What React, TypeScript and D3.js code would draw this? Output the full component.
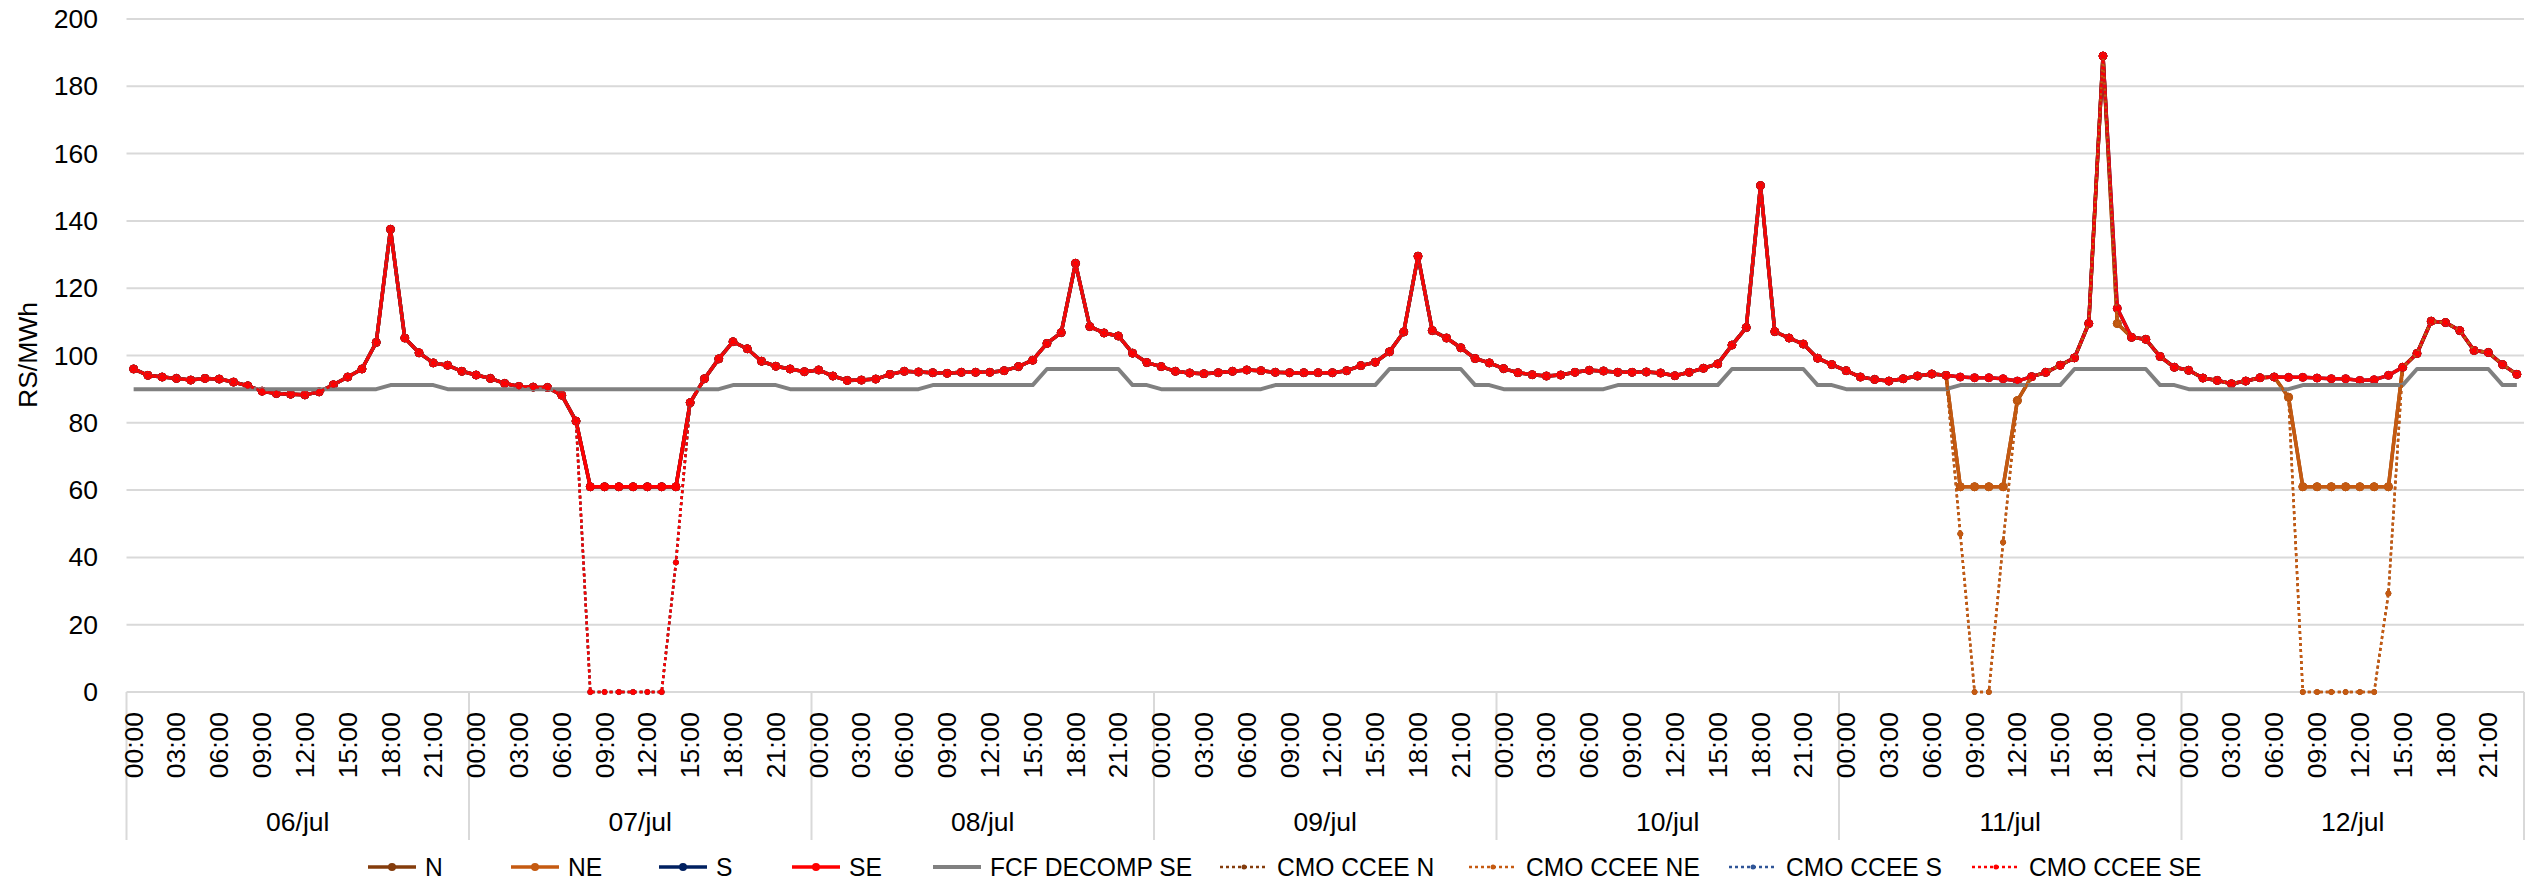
import React from 'react';
import * as d3 from 'd3';

const DAYS = ['06/jul', '07/jul', '08/jul', '09/jul', '10/jul', '11/jul', '12/jul'];
const HOUR_TICKS = ['00:00', '03:00', '06:00', '09:00', '12:00', '15:00', '18:00', '21:00'];
const Y_TICKS = [0, 20, 40, 60, 80, 100, 120, 140, 160, 180, 200];

// SE hourly values (7 days x 24 h)
const SE_VALUES = [
  96.0, 94.1, 93.6, 93.2, 92.7, 93.2, 93.0, 92.1, 91.0, 89.4, 88.7, 88.5, 88.3, 89.2, 91.3, 93.6, 96.0, 103.9, 137.5, 105.2, 100.8, 97.8, 97.1, 95.3,
  94.2, 93.2, 91.7, 90.8, 90.6, 90.5, 88.2, 80.5, 61, 61, 61, 61, 61, 61, 61, 86.0, 93.1, 99.0, 104.1, 102.0, 98.3, 96.8, 96.0, 95.2,
  95.7, 93.9, 92.6, 92.7, 93.0, 94.4, 95.3, 95.1, 94.9, 94.7, 95.0, 95.0, 95.0, 95.5, 96.7, 98.6, 103.6, 106.8, 127.4, 108.6, 106.7, 105.8, 100.7, 97.9,
  96.7, 95.3, 94.8, 94.6, 94.9, 95.3, 95.7, 95.5, 95.0, 94.9, 94.9, 94.9, 94.9, 95.5, 97.0, 98.0, 101.1, 107.0, 129.5, 107.4, 105.2, 102.3, 99.1, 97.8,
  96.1, 94.9, 94.3, 93.9, 94.2, 95.0, 95.6, 95.4, 95.0, 95.0, 95.1, 94.8, 94.0, 95.0, 96.2, 97.5, 103.1, 108.3, 150.5, 107.1, 105.2, 103.4, 99.2, 97.3,
  95.5, 93.6, 92.9, 92.4, 93.1, 93.9, 94.5, 94.1, 93.6, 93.4, 93.4, 93.1, 92.4, 93.7, 95.0, 97.1, 99.3, 109.5, 189.0, 114.0, 105.4, 104.8, 99.7, 96.5,
  95.6, 93.3, 92.6, 91.6, 92.4, 93.4, 93.6, 93.5, 93.5, 93.3, 93.1, 93.1, 92.6, 92.8, 94.1, 96.5, 100.6, 110.2, 109.8, 107.4, 101.5, 100.9, 97.3, 94.4,
];

// NE hourly values
const NE_VALUES = [
  96.0, 94.1, 93.6, 93.2, 92.7, 93.2, 93.0, 92.1, 91.0, 89.4, 88.7, 88.5, 88.3, 89.2, 91.3, 93.6, 96.0, 103.9, 137.5, 105.2, 100.8, 97.8, 97.1, 95.3,
  94.2, 93.2, 91.7, 90.8, 90.6, 90.5, 88.2, 80.5, 61, 61, 61, 61, 61, 61, 61, 86.0, 93.1, 99.0, 104.1, 102.0, 98.3, 96.8, 96.0, 95.2,
  95.7, 93.9, 92.6, 92.7, 93.0, 94.4, 95.3, 95.1, 94.9, 94.7, 95.0, 95.0, 95.0, 95.5, 96.7, 98.6, 103.6, 106.8, 127.4, 108.6, 106.7, 105.8, 100.7, 97.9,
  96.7, 95.3, 94.8, 94.6, 94.9, 95.3, 95.7, 95.5, 95.0, 94.9, 94.9, 94.9, 94.9, 95.5, 97.0, 98.0, 101.1, 107.0, 129.5, 107.4, 105.2, 102.3, 99.1, 97.8,
  96.1, 94.9, 94.3, 93.9, 94.2, 95.0, 95.6, 95.4, 95.0, 95.0, 95.1, 94.8, 94.0, 95.0, 96.2, 97.5, 103.1, 108.3, 150.5, 107.1, 105.2, 103.4, 99.2, 97.3,
  95.5, 93.6, 92.9, 92.4, 93.1, 93.9, 94.5, 94.1, 61, 61, 61, 61, 86.6, 93.7, 95.0, 97.1, 99.3, 109.5, 189.0, 109.5, 105.4, 104.8, 99.7, 96.5,
  95.6, 93.3, 92.6, 91.6, 92.4, 93.4, 93.6, 87.6, 61, 61, 61, 61, 61, 61, 61, 96.5, 100.6, 110.2, 109.8, 107.4, 101.5, 100.9, 97.3, 94.4,
];

// N and S overlap NE and SE on the chart
const N_VALUES = NE_VALUES;
const S_VALUES = SE_VALUES;

// FCF DECOMP SE
const FCF_VALUES = [
  90, 90, 90, 90, 90, 90, 90, 90, 90, 90, 90, 90, 90, 90, 90, 90, 90, 90, 91.2, 91.2, 91.2, 91.2, 90, 90,
  90, 90, 90, 90, 90, 90, 90, 90, 90, 90, 90, 90, 90, 90, 90, 90, 90, 90, 91.2, 91.2, 91.2, 91.2, 90, 90,
  90, 90, 90, 90, 90, 90, 90, 90, 91.2, 91.2, 91.2, 91.2, 91.2, 91.2, 91.2, 91.2, 96, 96, 96, 96, 96, 96, 91.2, 91.2,
  90, 90, 90, 90, 90, 90, 90, 90, 91.2, 91.2, 91.2, 91.2, 91.2, 91.2, 91.2, 91.2, 96, 96, 96, 96, 96, 96, 91.2, 91.2,
  90, 90, 90, 90, 90, 90, 90, 90, 91.2, 91.2, 91.2, 91.2, 91.2, 91.2, 91.2, 91.2, 96, 96, 96, 96, 96, 96, 91.2, 91.2,
  90, 90, 90, 90, 90, 90, 90, 90, 91.2, 91.2, 91.2, 91.2, 91.2, 91.2, 91.2, 91.2, 96, 96, 96, 96, 96, 96, 91.2, 91.2,
  90, 90, 90, 90, 90, 90, 90, 90, 91.2, 91.2, 91.2, 91.2, 91.2, 91.2, 91.2, 91.2, 96, 96, 96, 96, 96, 96, 91.2, 91.2,
];

// CMO CCEE SE
const CMO_SE_VALUES = [
  96.0, 94.1, 93.6, 93.2, 92.7, 93.2, 93.0, 92.1, 91.0, 89.4, 88.7, 88.5, 88.3, 89.2, 91.3, 93.6, 96.0, 103.9, 137.5, 105.2, 100.8, 97.8, 97.1, 95.3,
  94.2, 93.2, 91.7, 90.8, 90.6, 90.5, 88.2, 80.5, 0, 0, 0, 0, 0, 0, 38.5, 86.0, 93.1, 99.0, 104.1, 102.0, 98.3, 96.8, 96.0, 95.2,
  95.7, 93.9, 92.6, 92.7, 93.0, 94.4, 95.3, 95.1, 94.9, 94.7, 95.0, 95.0, 95.0, 95.5, 96.7, 98.6, 103.6, 106.8, 127.4, 108.6, 106.7, 105.8, 100.7, 97.9,
  96.7, 95.3, 94.8, 94.6, 94.9, 95.3, 95.7, 95.5, 95.0, 94.9, 94.9, 94.9, 94.9, 95.5, 97.0, 98.0, 101.1, 107.0, 129.5, 107.4, 105.2, 102.3, 99.1, 97.8,
  96.1, 94.9, 94.3, 93.9, 94.2, 95.0, 95.6, 95.4, 95.0, 95.0, 95.1, 94.8, 94.0, 95.0, 96.2, 97.5, 103.1, 108.3, 150.5, 107.1, 105.2, 103.4, 99.2, 97.3,
  95.5, 93.6, 92.9, 92.4, 93.1, 93.9, 94.5, 94.1, 93.6, 93.4, 93.4, 93.1, 92.4, 93.7, 95.0, 97.1, 99.3, 109.5, 189.0, 114.0, 105.4, 104.8, 99.7, 96.5,
  95.6, 93.3, 92.6, 91.6, 92.4, 93.4, 93.6, 93.5, 93.5, 93.3, 93.1, 93.1, 92.6, 92.8, 94.1, 96.5, 100.6, 110.2, 109.8, 107.4, 101.5, 100.9, 97.3, 94.4,
];

// CMO CCEE NE
const CMO_NE_VALUES = [
  96.0, 94.1, 93.6, 93.2, 92.7, 93.2, 93.0, 92.1, 91.0, 89.4, 88.7, 88.5, 88.3, 89.2, 91.3, 93.6, 96.0, 103.9, 137.5, 105.2, 100.8, 97.8, 97.1, 95.3,
  94.2, 93.2, 91.7, 90.8, 90.6, 90.5, 88.2, 80.5, 0, 0, 0, 0, 0, 0, 38.5, 86.0, 93.1, 99.0, 104.1, 102.0, 98.3, 96.8, 96.0, 95.2,
  95.7, 93.9, 92.6, 92.7, 93.0, 94.4, 95.3, 95.1, 94.9, 94.7, 95.0, 95.0, 95.0, 95.5, 96.7, 98.6, 103.6, 106.8, 127.4, 108.6, 106.7, 105.8, 100.7, 97.9,
  96.7, 95.3, 94.8, 94.6, 94.9, 95.3, 95.7, 95.5, 95.0, 94.9, 94.9, 94.9, 94.9, 95.5, 97.0, 98.0, 101.1, 107.0, 129.5, 107.4, 105.2, 102.3, 99.1, 97.8,
  96.1, 94.9, 94.3, 93.9, 94.2, 95.0, 95.6, 95.4, 95.0, 95.0, 95.1, 94.8, 94.0, 95.0, 96.2, 97.5, 103.1, 108.3, 150.5, 107.1, 105.2, 103.4, 99.2, 97.3,
  95.5, 93.6, 92.9, 92.4, 93.1, 93.9, 94.5, 94.1, 47, 0, 0, 44.5, 86.6, 93.7, 95.0, 97.1, 99.3, 109.5, 189.0, 109.5, 105.4, 104.8, 99.7, 96.5,
  95.6, 93.3, 92.6, 91.6, 92.4, 93.4, 93.6, 87.6, 0, 0, 0, 0, 0, 0, 29.3, 96.5, 100.6, 110.2, 109.8, 107.4, 101.5, 100.9, 97.3, 94.4,
];

const CMO_N_VALUES = CMO_NE_VALUES;
const CMO_S_VALUES = CMO_SE_VALUES;

type Series = { name: string; values: number[]; color: string; dotted: boolean; marker: number; width: number };

const SERIES: Series[] = [
  { name: 'N', values: N_VALUES, color: '#843C0C', dotted: false, marker: 4, width: 3.5 },
  { name: 'NE', values: NE_VALUES, color: '#C55A11', dotted: false, marker: 4, width: 3.5 },
  { name: 'S', values: S_VALUES, color: '#002060', dotted: false, marker: 4, width: 3.5 },
  { name: 'SE', values: SE_VALUES, color: '#FF0000', dotted: false, marker: 4, width: 3.5 },
  { name: 'FCF DECOMP SE', values: FCF_VALUES, color: '#808080', dotted: false, marker: 0, width: 4 },
  { name: 'CMO CCEE N', values: CMO_N_VALUES, color: '#843C0C', dotted: true, marker: 2.5, width: 2.5 },
  { name: 'CMO CCEE NE', values: CMO_NE_VALUES, color: '#C55A11', dotted: true, marker: 2.5, width: 2.5 },
  { name: 'CMO CCEE S', values: CMO_S_VALUES, color: '#2F5597', dotted: true, marker: 2.5, width: 2.5 },
  { name: 'CMO CCEE SE', values: CMO_SE_VALUES, color: '#FF0000', dotted: true, marker: 2.5, width: 2.5 },
];

// legend text start positions (layout)
const LEGEND_TEXT_X = [425, 568, 716, 849, 990, 1277, 1526, 1786, 2029];

const W = 2529;
const H = 884;
const FONT = "'Liberation Sans', Arial, sans-serif";
const FS = 26.5;

export default function App() {
  const left = 126.5;
  const right = 2524;
  const top = 19;
  const bottom = 692;
  const n = SE_VALUES.length;
  const x = d3.scaleBand<number>().domain(d3.range(n)).range([left, right]).padding(0);
  const y = d3.scaleLinear().domain([0, 200]).range([bottom, top]);
  const cx = (i: number) => (x(i) as number) + x.bandwidth() / 2;
  const line = d3.line<number>().x((_, i) => cx(i)).y((d) => y(d));
  const dayW = x.bandwidth() * 24;
  const legY = 867;

  return (
    <svg width={W} height={H} style={{ position: 'absolute', left: 0, top: 0, background: '#fff' }} fontFamily={FONT}>
      <rect x={0} y={0} width={W} height={H} fill="#fff" />
      {Y_TICKS.map((t) => (
        <g key={t}>
          <line x1={left} x2={right} y1={y(t)} y2={y(t)} stroke="#d9d9d9" strokeWidth={2} />
          <text x={98} y={y(t)} textAnchor="end" dominantBaseline="central" fontSize={FS} fill="#000">
            {t}
          </text>
        </g>
      ))}
      <text transform={`translate(28,355) rotate(-90)`} textAnchor="middle" dominantBaseline="central" fontSize={FS} fill="#000">
        RS/MWh
      </text>
      {d3.range(DAYS.length + 1).map((k) => (
        <line key={k} x1={left + k * dayW} x2={left + k * dayW} y1={bottom} y2={840} stroke="#d9d9d9" strokeWidth={2} />
      ))}
      {DAYS.map((d, k) => (
        <text key={d} x={left + (k + 0.5) * dayW} y={822} textAnchor="middle" dominantBaseline="central" fontSize={FS} fill="#000">
          {d}
        </text>
      ))}
      {d3.range(n).filter((i) => i % 3 === 0).map((i) => (
        <text
          key={i}
          transform={`translate(${cx(i)},${bottom + 20}) rotate(-90)`}
          textAnchor="end"
          dominantBaseline="central"
          fontSize={FS}
          fill="#000"
        >
          {HOUR_TICKS[(i % 24) / 3]}
        </text>
      ))}
      {SERIES.map((s) => (
        <g key={s.name}>
          <path
            d={line(s.values) || ''}
            fill="none"
            stroke={s.color}
            strokeWidth={s.width}
            strokeDasharray={s.dotted ? '3 3' : undefined}
            strokeLinejoin="round"
          />
          {s.marker > 0 &&
            s.values.map((v, i) => <circle key={i} cx={cx(i)} cy={y(v)} r={s.marker} fill={s.color} stroke={s.color} strokeWidth={1} />)}
        </g>
      ))}
      {SERIES.map((s, i) => {
        const tx = LEGEND_TEXT_X[i];
        const x1 = tx - 57;
        const x2 = tx - 9;
        return (
          <g key={s.name}>
            <line x1={x1} x2={x2} y1={legY} y2={legY} stroke={s.color} strokeWidth={s.width} strokeDasharray={s.dotted ? '3 3' : undefined} />
            {s.marker > 0 && <circle cx={(x1 + x2) / 2} cy={legY} r={s.marker} fill={s.color} />}
            <text transform={`translate(${tx},${legY}) scale(0.93,1)`} dominantBaseline="central" fontSize={FS} fill="#000">
              {s.name}
            </text>
          </g>
        );
      })}
    </svg>
  );
}
